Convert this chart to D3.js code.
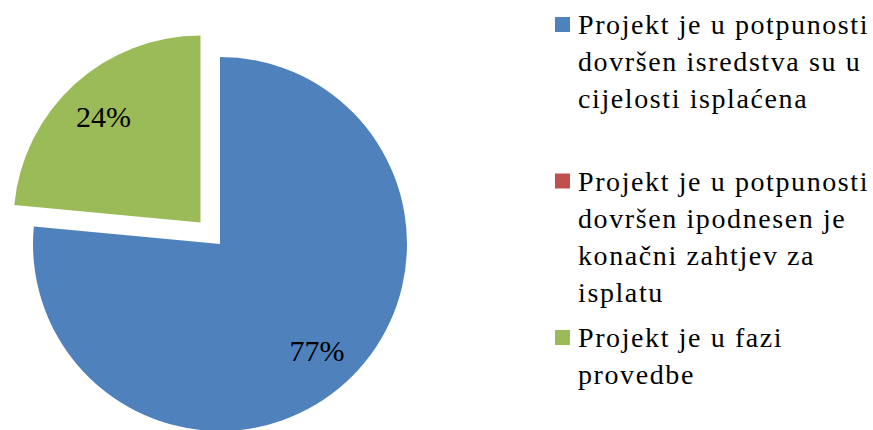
<!DOCTYPE html>
<html>
<head>
<meta charset="utf-8">
<script src="https://cdn.jsdelivr.net/npm/d3@7"></script>
<style>
  body { margin: 0; background: #fff; }
</style>
</head>
<body>
<div id="chart"></div>
<script>
// categories (legend text, broken into lines as in the original)
var categories = [
    ["Projekt je u potpunosti", "dovršen isredstva su u", "cijelosti isplaćena"],
    ["Projekt je u potpunosti", "dovršen ipodnesen je", "konačni zahtjev za", "isplatu"],
    ["Projekt je u fazi", "provedbe"]
];
var values = [76.5, 0, 23.5];
var colors = ["#4F81BD", "#C0504D", "#9BBB59"];
var exploded = [false, false, true];

var width = 873,
    height = 430;
var font = "'Liberation Serif', 'Times New Roman', Times, serif";

var svg = d3.select("#chart")
    .append("svg")
    .attr("width", width)
    .attr("height", height)
    .attr("font-family", font);

// pie geometry
var cx = 220,
    cy = 244,
    radius = 187,
    explode = 29;

var pie = d3.pie().sort(null).value(function (d) { return d.value; });
var arc = d3.arc().innerRadius(0).outerRadius(radius);
var labelArc = d3.arc().innerRadius(radius * 0.77).outerRadius(radius * 0.77);

var data = values.map(function (v, i) {
    return { value: v, color: colors[i], exploded: exploded[i] };
});
var total = d3.sum(values);

var g = svg.append("g")
    .attr("transform", "translate(" + cx + "," + cy + ")");

var slices = g.selectAll(".slice")
    .data(pie(data).filter(function (d) { return d.value > 0; }))
    .enter()
    .append("g")
    .attr("class", "slice")
    .attr("transform", function (d) {
        if (!d.data.exploded) return null;
        var a = (d.startAngle + d.endAngle) / 2;
        return "translate(" + (Math.sin(a) * explode) + "," + (-Math.cos(a) * explode) + ")";
    });

slices.append("path")
    .attr("d", arc)
    .attr("fill", function (d) { return d.data.color; });

slices.append("text")
    .attr("transform", function (d) { return "translate(" + labelArc.centroid(d) + ")"; })
    .attr("text-anchor", "middle")
    .attr("dy", "0.35em")
    .attr("font-family", font)
    .attr("font-size", 30)
    .attr("fill", "#000")
    .text(function (d) { return Math.round(d.value / total * 100) + "%"; });

// legend
var legend = svg.append("g").attr("class", "legend");
var slot = 156.5,
    lineH = 37;

categories.forEach(function (lines, i) {
    var y0 = 34 + i * slot;
    legend.append("rect")
        .attr("x", 555)
        .attr("y", y0 - 17)
        .attr("width", 15)
        .attr("height", 15)
        .attr("fill", colors[i]);
    var t = legend.append("text")
        .attr("x", 578)
        .attr("y", y0)
        .attr("font-family", font)
        .attr("font-size", 28)
        .attr("letter-spacing", 1.6)
        .attr("fill", "#000");
    lines.forEach(function (l, j) {
        t.append("tspan")
            .attr("x", 578)
            .attr("y", y0 + j * lineH)
            .text(l);
    });
});
</script>
</body>
</html>
